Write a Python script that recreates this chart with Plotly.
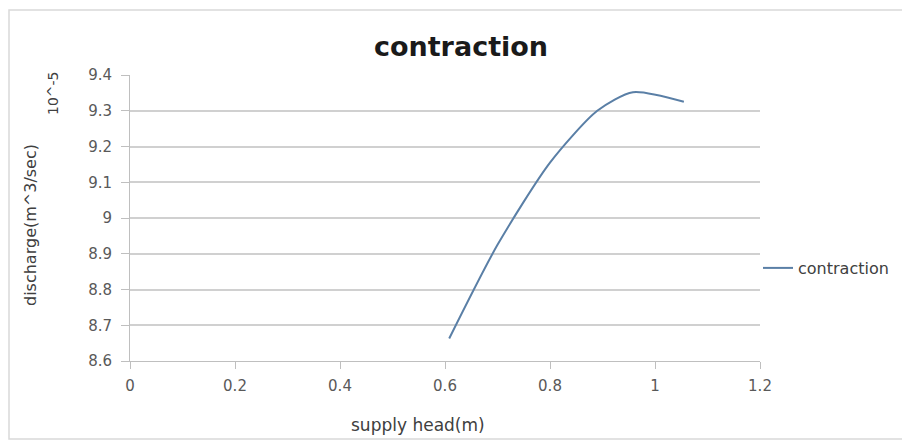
import plotly.graph_objects as go

# Measured discharge against supply head for the contraction fitting
supply_head = [0.608, 0.70, 0.80, 0.89, 0.958, 1.055]
discharge = [8.663, 8.925, 9.155, 9.30, 9.352, 9.325]

x_ticks = [0, 0.2, 0.4, 0.6, 0.8, 1.0, 1.2]
x_tick_text = ["0", "0.2", "0.4", "0.6", "0.8", "1", "1.2"]
y_ticks = [8.6, 8.7, 8.8, 8.9, 9.0, 9.1, 9.2, 9.3, 9.4]
y_tick_text = ["8.6", "8.7", "8.8", "8.9", "9", "9.1", "9.2", "9.3", "9.4"]

W, H = 902, 441
L, R, T, B = 130, 142, 75, 80
pw, ph = W - L - R, H - T - B

def px_x(p):
    return (p - L) / pw

def px_y(p):
    return (H - B - p) / ph

FONT = "DejaVu Sans, Liberation Sans, sans-serif"

fig = go.Figure()
fig.add_trace(go.Scatter(
    x=supply_head, y=discharge, mode="lines", name="contraction",
    line=dict(color="#5a7fa6", width=2, shape="spline", smoothing=0.7),
))

tick_font = dict(family=FONT, size=15, color="#595959")

fig.update_layout(
    width=W, height=H,
    margin=dict(l=L, r=R, t=T, b=B, autoexpand=False),
    paper_bgcolor="white", plot_bgcolor="white",
    showlegend=True,
    legend=dict(
        x=px_x(758), y=px_y(268), xanchor="left", yanchor="middle",
        font=dict(family=FONT, size=16, color="#404040"),
        bgcolor="rgba(0,0,0,0)", itemwidth=30,
    ),
    title=dict(
        text="<b>contraction</b>", xref="container", x=461 / W, xanchor="center",
        y=1 - 47 / H, yanchor="middle",
        font=dict(family=FONT, size=27, color="#1a1a1a"),
    ),
    xaxis=dict(
        range=[0, 1.2], tickvals=x_ticks, ticktext=x_tick_text,
        showgrid=False, zeroline=False,
        showline=True, linecolor="#bfbfbf", linewidth=1,
        ticks="outside", ticklen=7, tickcolor="#bfbfbf",
        ticklabelstandoff=4,
        tickfont=tick_font,
    ),
    yaxis=dict(
        range=[8.6, 9.4], tickvals=y_ticks, ticktext=y_tick_text,
        showgrid=True, gridcolor="#d0d0d0", gridwidth=1.5, zeroline=False,
        showline=True, linecolor="#bfbfbf", linewidth=1,
        ticks="outside", ticklen=8, tickcolor="#bfbfbf",
        ticklabelstandoff=6,
        tickfont=tick_font,
    ),
    shapes=[dict(
        type="rect", xref="paper", yref="paper",
        x0=px_x(9), x1=px_x(930), y0=px_y(439), y1=px_y(10),
        line=dict(color="#d9d9d9", width=1.5), fillcolor="rgba(0,0,0,0)", layer="below",
    )],
    annotations=[
        dict(
            text="supply head(m)", xref="paper", yref="paper",
            x=px_x(418), y=px_y(425), xanchor="center", yanchor="middle",
            showarrow=False, font=dict(family=FONT, size=17, color="#404040"),
        ),
        dict(
            text="discharge(m^3/sec)", xref="paper", yref="paper",
            x=px_x(30), y=px_y(225), xanchor="center", yanchor="middle",
            textangle=-90, showarrow=False,
            font=dict(family=FONT, size=16, color="#404040"),
        ),
        dict(
            text="10^-5", xref="paper", yref="paper",
            x=px_x(53), y=px_y(93), xanchor="center", yanchor="middle",
            textangle=-90, showarrow=False,
            font=dict(family=FONT, size=14, color="#404040"),
        ),
    ],
)

fig.write_html("out.html")
